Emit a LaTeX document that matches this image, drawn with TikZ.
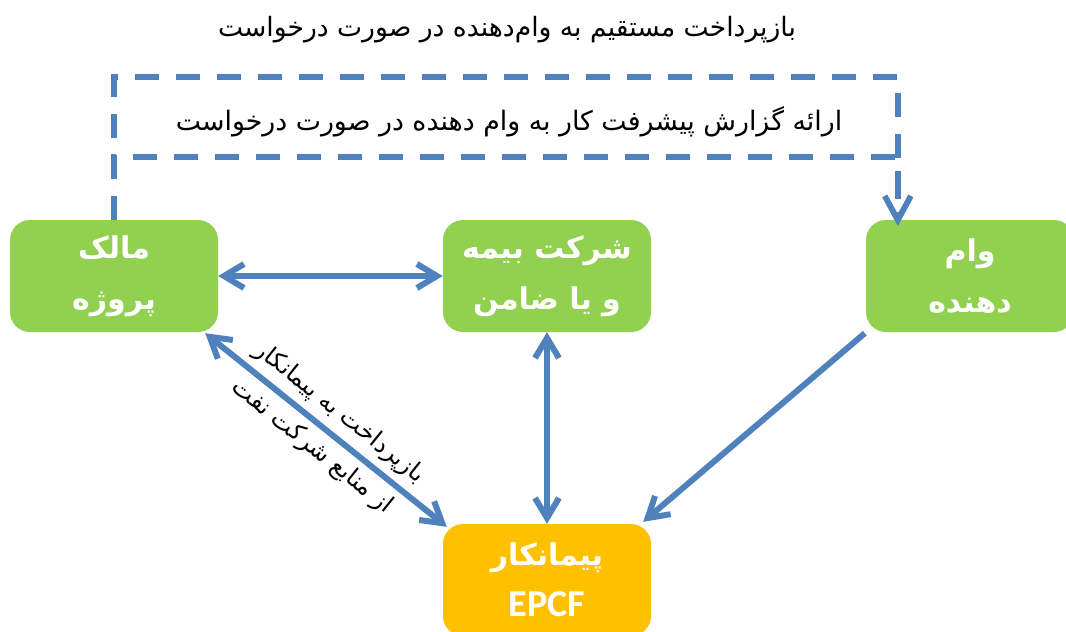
\documentclass[tikz,border=0pt]{standalone}
\usepackage{fontspec}
\TeXXeTstate=1
\newfontfamily\arabicfont[Script=Arabic]{DejaVu Sans}
\newfontfamily\latinfont{Carlito}
\usetikzlibrary{arrows.meta,positioning,calc}
\definecolor{boxgreen}{RGB}{146,208,80}
\definecolor{boxorange}{RGB}{255,192,0}
\definecolor{linkblue}{RGB}{79,129,189}
\newcommand{\fatext}[1]{{\arabicfont\beginR #1\endR}}

\begin{document}
\begin{tikzpicture}[x=1pt, y=-1pt,
    party/.style={fill=boxgreen, rounded corners=20pt, minimum width=208pt,
                  minimum height=112pt, inner sep=0pt, align=center, text=white,
                  font=\bfseries\fontsize{30}{51}\selectfont},
    contractor/.style={party, fill=boxorange},
    barb/.tip={Straight Barb[length=20pt, width=24pt]},
    bigbarb/.tip={Straight Barb[length=24pt, width=26pt]},
    link/.style={line width=6pt, linkblue, line cap=butt},
    both/.style={link, barb-barb},
    single/.style={link, -barb},
    dashlink/.style={line width=5.5pt, linkblue, dash pattern=on 24pt off 17pt, -bigbarb},
    label/.style={font=\fontsize{26.6}{30}\selectfont, inner sep=0pt}
]
\useasboundingbox (0,0) rectangle (1066,632);

% the four parties
\node[party] (owner) at (114,276) {\fatext{مالک}\\\fatext{پروژه}};
\node[party] (insurer) at (547,276) {\fatext{شرکت بیمه}\\\fatext{و یا ضامن}};
\node[party] (lender) at (970,276) {\fatext{وام}\\\fatext{دهنده}};
\node[contractor] (epc) at (547,580) {\fatext{پیمانکار}\\{\latinfont\fontsize{38}{51}\selectfont EPCF}};

% dashed links from owner to lender
\coordinate (payline) at (0,77);
\coordinate (reportline) at (0,157);
\coordinate (lenderin) at ($(lender.north west)+(32,6)$);
\draw[dashlink] (owner.north) -- (owner.north |- payline) -| (lenderin);
\draw[dashlink] (owner.north) -- (owner.north |- reportline) -| (lenderin);

\node[label] (paylabel) at (507,30) {\fatext{بازپرداخت مستقیم به وام‌دهنده در صورت درخواست}};
\node[label, font=\fontsize{26.8}{30}\selectfont] (reportlabel) at (509,122) {\fatext{ارائه گزارش پیشرفت کار به وام دهنده در صورت درخواست}};

% solid links
\draw[both] (owner.east) -- (insurer.west);
\draw[both] (insurer.south) -- (epc.north);
\draw[both] ($(owner.south east)+(-13,1)$) -- ($(epc.north west)+(4,3)$)
    node[midway, sloped, align=center, text=black, font=\fontsize{24}{44}\selectfont]
    {\fatext{بازپرداخت به پیمانکار}\\\fatext{از منابع شرکت نفت}};
\draw[single] ($(lender.south west)+(-1,1)$) -- ($(epc.north east)+(-8,-2)$);

\end{tikzpicture}
\end{document}
